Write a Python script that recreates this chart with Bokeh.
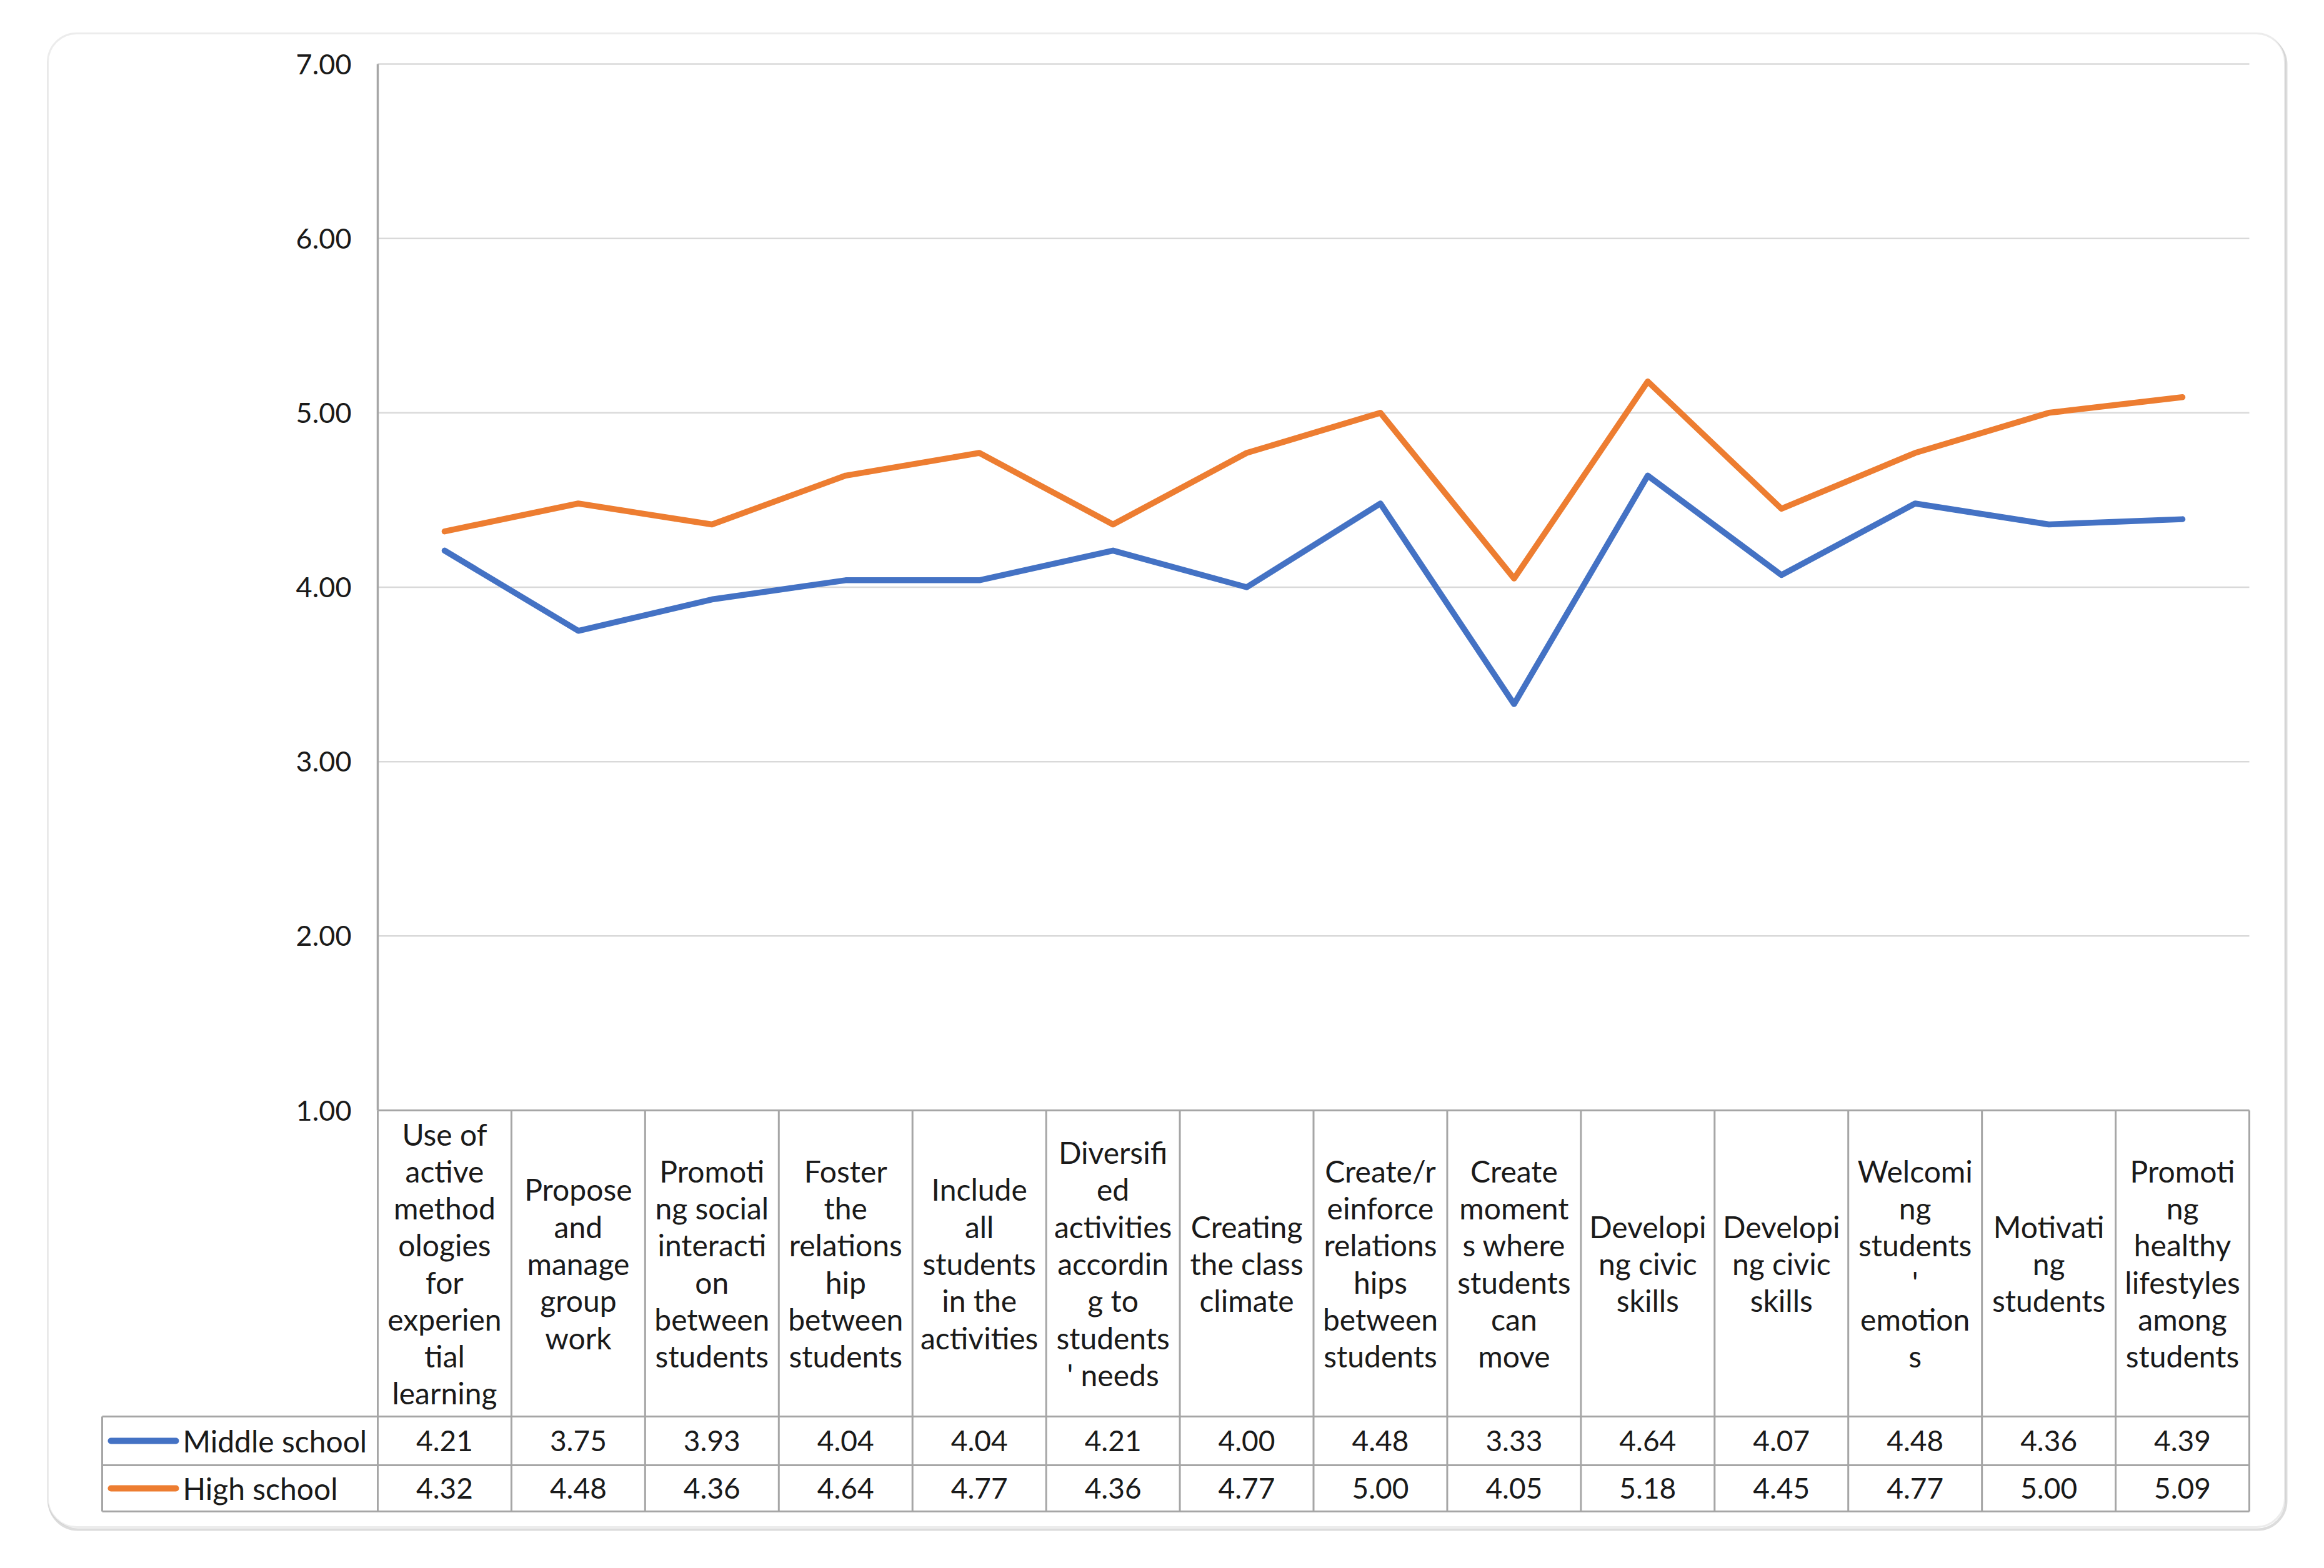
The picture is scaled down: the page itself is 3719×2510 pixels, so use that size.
from bokeh.plotting import figure
from bokeh.models import Range1d, BoxAnnotation
from bokeh.core.properties import value
from bokeh.embed import file_html
from bokeh.resources import INLINE

# ---------------- data ----------------
categories = [
    "Use of active methodologies for experiential learning",
    "Propose and manage group work",
    "Promoting social interaction between students",
    "Foster the relationship between students",
    "Include all students in the activities",
    "Diversified activities according to students' needs",
    "Creating the class climate",
    "Create/reinforce relationships between students",
    "Create moments where students can move",
    "Developing civic skills",
    "Developing civic skills",
    "Welcoming students' emotions",
    "Motivating students",
    "Promoting healthy lifestyles among students",
]
header_labels = [
    "Use of\nactive\nmethod\nologies\nfor\nexperien\ntial\nlearning",
    "Propose\nand\nmanage\ngroup\nwork",
    "Promoti\nng social\ninteracti\non\nbetween\nstudents",
    "Foster\nthe\nrelations\nhip\nbetween\nstudents",
    "Include\nall\nstudents\nin the\nactivities",
    "Diversifi\ned\nactivities\naccordin\ng to\nstudents\n' needs",
    "Creating\nthe class\nclimate",
    "Create/r\neinforce\nrelations\nhips\nbetween\nstudents",
    "Create\nmoment\ns where\nstudents\ncan\nmove",
    "Developi\nng civic\nskills",
    "Developi\nng civic\nskills",
    "Welcomi\nng\nstudents\n'\nemotion\ns",
    "Motivati\nng\nstudents",
    "Promoti\nng\nhealthy\nlifestyles\namong\nstudents",
]
series_names = ["Middle school", "High school"]
middle_school = [4.21, 3.75, 3.93, 4.04, 4.04, 4.21, 4.00, 4.48, 3.33, 4.64, 4.07, 4.48, 4.36, 4.39]
high_school = [4.32, 4.48, 4.36, 4.64, 4.77, 4.36, 4.77, 5.00, 4.05, 5.18, 4.45, 4.77, 5.00, 5.09]
y_ticks = [1, 2, 3, 4, 5, 6, 7]
y_tick_labels = ["1.00", "2.00", "3.00", "4.00", "5.00", "6.00", "7.00"]
series_colors = ["#4472C4", "#ED7D31"]

# ---------------- layout (figure pixels, from top-left) ----------------
W, H = 3703, 2494
PL, PR = 604, 3599          # plot area left / right
PY1, PY7 = 1777, 102        # pixel rows of 1.00 and 7.00
HDR_BOT, R1_BOT, R2_BOT = 2267, 2345, 2419
LEG_L = 163
YLAB_R = 562
BOX_L, BOX_R, BOX_T, BOX_B = 76, 3656, 53, 2444

n = len(categories)
ux = n / (PR - PL)
uy = (y_ticks[-1] - y_ticks[0]) / (PY1 - PY7)


def dx(px):
    return (px - PL) * ux


def dy(py):
    return y_ticks[0] + (PY1 - py) * uy


p = figure(width=W, height=H,
           x_range=Range1d(dx(0), dx(W)), y_range=Range1d(dy(H), dy(0)),
           output_backend="svg", toolbar_location=None,
           x_axis_location=None, y_axis_location=None, min_border=0)
p.grid.visible = False
p.outline_line_color = None
p.background_fill_color = "white"
p.border_fill_color = "white"

FONT = value("Lato")
TXT = "#1a1a1a"
GRID = "#d9d9d9"
TBL = "#a6a6a6"

# rounded outer frame with a light shadow
p.add_layout(BoxAnnotation(left=dx(BOX_L + 2), right=dx(BOX_R + 2), top=dy(BOX_T + 4), bottom=dy(BOX_B + 4),
                           fill_alpha=0, line_color="#8c8c8c", line_width=4, border_radius=46, level="underlay"))
p.add_layout(BoxAnnotation(left=dx(BOX_L), right=dx(BOX_R), top=dy(BOX_T), bottom=dy(BOX_B),
                           fill_color="white", fill_alpha=1, line_color="#c0c0c0", line_width=3,
                           border_radius=46, level="underlay"))

# horizontal grid lines 2..7
gy = y_ticks[1:]
p.segment(x0=[0] * len(gy), x1=[n] * len(gy), y0=gy, y1=gy, line_color=GRID, line_width=2.5)

# table horizontal lines
p.segment(x0=[0], x1=[n], y0=[y_ticks[0]], y1=[y_ticks[0]], line_color=TBL, line_width=3)
rows_y = [dy(HDR_BOT), dy(R1_BOT), dy(R2_BOT)]
p.segment(x0=[dx(LEG_L)] * 3, x1=[n] * 3, y0=rows_y, y1=rows_y, line_color=TBL, line_width=3)

# vertical lines
xs = list(range(n + 1))
p.segment(x0=xs, x1=xs, y0=[y_ticks[0]] * len(xs), y1=[dy(R2_BOT)] * len(xs), line_color=TBL, line_width=3)
p.segment(x0=[0], x1=[0], y0=[y_ticks[-1]], y1=[y_ticks[0]], line_color=TBL, line_width=3.5)
p.segment(x0=[dx(LEG_L)], x1=[dx(LEG_L)], y0=[dy(HDR_BOT)], y1=[dy(R2_BOT)], line_color=TBL, line_width=3)

# y tick labels
p.text(x=[dx(YLAB_R)] * len(y_ticks), y=y_ticks, text=y_tick_labels, text_align="right",
       text_baseline="middle", text_font=FONT, text_font_size="45px", text_color=TXT)

# header labels
centers = [i + 0.5 for i in range(n)]
p.text(x=centers, y=[dy((PY1 + HDR_BOT) / 2)] * n, text=header_labels, text_align="center",
       text_baseline="middle", text_font=FONT, text_font_size="48px", text_line_height=1.04,
       text_color=TXT)

# data rows
row_centers = [dy((HDR_BOT + R1_BOT) / 2), dy((R1_BOT + R2_BOT) / 2)]
for vals, yc in zip([middle_school, high_school], row_centers):
    p.text(x=centers, y=[yc] * n, text=[f"{v:.2f}" for v in vals], text_align="center",
           text_baseline="middle", text_font=FONT, text_font_size="46px", text_color=TXT)

# legend keys
for name, col, yc in zip(series_names, series_colors, row_centers):
    p.segment(x0=[dx(177)], x1=[dx(281)], y0=[yc], y1=[yc], line_color=col, line_width=10, line_cap="round")
    p.text(x=[dx(292)], y=[yc], text=[name], text_align="left", text_baseline="middle",
           text_font=FONT, text_font_size="48px", text_color=TXT)

# series lines
for vals, col in zip([middle_school, high_school], series_colors):
    p.line(centers, vals, line_color=col, line_width=9.5, line_join="round", line_cap="round")

open("out.html", "w").write(file_html(p, INLINE))
